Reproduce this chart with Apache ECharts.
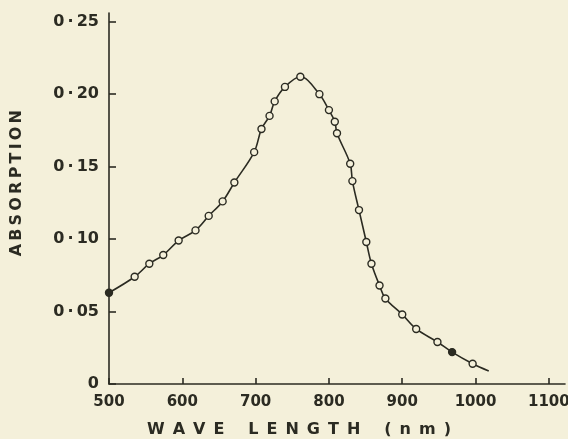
<!DOCTYPE html>
<html><head><meta charset="utf-8">
<script src="https://cdn.jsdelivr.net/npm/echarts@6/dist/echarts.min.js"></script>
<style>html,body{margin:0;padding:0;background:#f4f0da}#c{width:568px;height:439px}</style>
</head><body><div id="c"></div>
<script>
// Wavelength (nm) of each plotted reading, and the absorption read at it
const wavelengths = [500,535,555,574,595,618,636,655,671,698,708,719,726,740,761,787,800,808,811,829,832,841,851,858,869,877,900,919,948,968,996,1018];
const absorption  = [0.063,0.074,0.083,0.089,0.099,0.106,0.116,0.126,0.139,0.160,0.176,0.185,0.195,0.205,0.212,0.200,0.189,0.181,0.173,0.152,0.140,0.120,0.098,0.083,0.068,0.059,0.048,0.038,0.029,0.022,0.014,0.009];
const filledAt    = [500, 968];   // readings drawn with a solid dot
const noMarkerAt  = [1018];       // curve end, no marker
const xTicks      = [500,600,700,800,900,1000,1100];
const yTicks      = [0,0.05,0.10,0.15,0.20,0.25];
const yTickLabels = ['0','0\u2009·\u200905','0\u2009·\u200910','0\u2009·\u200915','0\u2009·\u200920','0\u2009·\u200925'];
const xTitle = 'WAVE LENGTH (nm)';
const yTitle = 'ABSORPTION';

const INK = '#2b2b22', BG = '#f4f0da';
const FONT = "'DejaVu Sans', sans-serif";
const spaced = (s, sep, wordSep) => s.split(' ').map(w => w.split('').join(sep)).join(wordSep);

const seriesData = wavelengths.map((w, i) => {
  const d = { value: [w, absorption[i]] };
  if (filledAt.includes(w)) d.itemStyle = { color: INK };
  if (noMarkerAt.includes(w)) d.symbol = 'none';
  return d;
});

const chart = echarts.init(document.getElementById('c'), null, { renderer: 'canvas' });
chart.setOption({
  backgroundColor: BG,
  animation: false,
  grid: { left: 109, right: 3, top: 13, bottom: 55, containLabel: false, outerBoundsMode: 'none' },
  xAxis: {
    type: 'value', min: 500, max: 1122,
    axisLine: { lineStyle: { color: INK, width: 1.6 } },
    axisTick: { inside: true, length: 6, lineStyle: { color: INK, width: 1.6 }, customValues: xTicks },
    axisLabel: { customValues: xTicks, color: INK, fontFamily: FONT, fontSize: 15, fontWeight: 'bold', margin: 11,
                 formatter: v => String(v), hideOverlap: false },
    splitLine: { show: false }
  },
  yAxis: {
    type: 'value', min: 0, max: 0.256,
    axisLine: { show: true, lineStyle: { color: INK, width: 1.6 } },
    axisTick: { show: true, inside: true, length: 7, lineStyle: { color: INK, width: 1.6 }, customValues: yTicks },
    axisLabel: {
      customValues: yTicks, color: INK, fontFamily: FONT, fontSize: 16, fontWeight: 'bold', margin: 10,
      formatter: v => { const k = yTicks.findIndex(t => Math.abs(t - v) < 1e-9); return k >= 0 ? yTickLabels[k] : ''; }
    },
    splitLine: { show: false }
  },
  graphic: [
    { type: 'text', left: 147, top: 422,
      style: { text: spaced(xTitle, '\u2002', '\u2003\u2002'), font: "bold 16px 'DejaVu Sans', sans-serif", fill: INK } },
    { type: 'text', left: 9, top: 110, rotation: Math.PI / 2, originX: 0, originY: 0,
      style: { text: spaced(yTitle, '\u2009', ' '), font: "bold 16px 'DejaVu Sans', sans-serif", fill: INK } }
  ],
  series: [{
    type: 'line', data: seriesData, smooth: 0.35,
    symbol: 'circle', symbolSize: 7,
    lineStyle: { color: INK, width: 1.6 },
    itemStyle: { color: BG, borderColor: INK, borderWidth: 1.4 }
  }]
});
</script></body></html>
